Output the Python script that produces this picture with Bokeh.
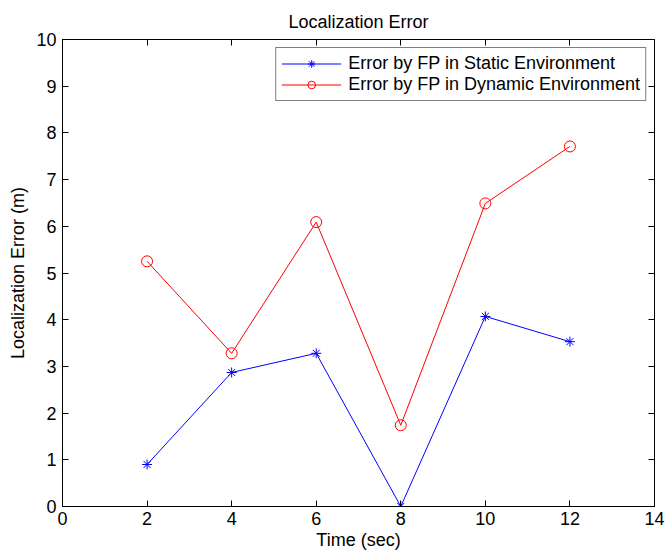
from bokeh.plotting import figure
from bokeh.models import Range1d, LinearAxis, FixedTicker, Legend, LegendItem
from bokeh.embed import file_html
from bokeh.resources import INLINE

time_sec = [2, 4, 6, 8, 10, 12]
static_err = [0.90, 2.87, 3.28, 0.00, 4.07, 3.53]
dynamic_err = [5.25, 3.28, 6.09, 1.74, 6.49, 7.71]
x_ticks = [0, 2, 4, 6, 8, 10, 12, 14]
y_ticks = [0, 1, 2, 3, 4, 5, 6, 7, 8, 9, 10]

FONT = "Liberation Sans"
FS = "18px"

p = figure(width=666, height=553, output_backend="svg", toolbar_location=None,
           x_range=Range1d(0, 14), y_range=Range1d(0, 10),
           min_border_left=62, min_border_right=12, min_border_top=39, min_border_bottom=47,
           title="Localization Error")
p.title.align = "center"
p.title.text_font = FONT
p.title.text_font_style = "normal"
p.title.text_font_size = FS
p.title.text_color = "black"
p.title.offset = 0
p.title.standoff = 15

p.xgrid.visible = False
p.ygrid.visible = False
p.outline_line_color = "black"
p.outline_line_width = 1
p.outline_line_alpha = 1

for ax, ticks in ((p.xaxis[0], x_ticks), (p.yaxis[0], y_ticks)):
    ax.ticker = FixedTicker(ticks=ticks)
    ax.major_tick_in = 6
    ax.major_tick_out = 0
    ax.minor_tick_in = 0
    ax.minor_tick_out = 0
    ax.major_label_text_font = FONT
    ax.major_label_text_font_size = FS
    ax.major_label_text_color = "black"
    ax.axis_label_text_font = FONT
    ax.axis_label_text_font_size = FS
    ax.axis_label_text_font_style = "normal"
    ax.axis_label_text_color = "black"
    ax.axis_line_color = "black"
    ax.major_tick_line_color = "black"
p.xaxis.axis_label = "Time (sec)"
p.yaxis.axis_label = "Localization Error (m)"
p.xaxis.major_label_standoff = 5
p.yaxis.major_label_standoff = 6
p.xaxis.axis_label_standoff = 2
p.yaxis.axis_label_standoff = 5

for loc, ticks in (("above", x_ticks), ("right", y_ticks)):
    a = LinearAxis(ticker=FixedTicker(ticks=ticks), major_tick_in=6, major_tick_out=0,
                   minor_tick_in=0, minor_tick_out=0,
                   major_label_overrides={t: "" for t in ticks},
                   major_label_standoff=0, axis_line_color="black", major_tick_line_color="black")
    p.add_layout(a, loc)

l1 = p.line(time_sec, static_err, line_color="blue", line_width=1)
m1 = p.scatter(time_sec, static_err, marker="asterisk", size=10, line_color="blue", line_width=1)
l2 = p.line(time_sec, dynamic_err, line_color="red", line_width=1)
m2 = p.scatter(time_sec, dynamic_err, marker="circle", size=11, line_color="red",
               fill_color=None, line_width=1)

legend = Legend(items=[
    LegendItem(label="Error by FP in Static Environment", renderers=[l1, m1]),
    LegendItem(label="Error by FP in Dynamic Environment", renderers=[l2, m2]),
], location="top_right")
legend.label_text_font = FONT
legend.label_text_font_size = FS
legend.label_text_color = "black"
legend.border_line_color = "black"
legend.border_line_width = 1
legend.glyph_width = 60
legend.glyph_height = 19
legend.label_height = 19
legend.spacing = 0
legend.padding = 5
legend.margin = 8
legend.label_standoff = 7
legend.background_fill_alpha = 1
p.add_layout(legend)

open("out.html", "w").write(file_html(p, INLINE))
